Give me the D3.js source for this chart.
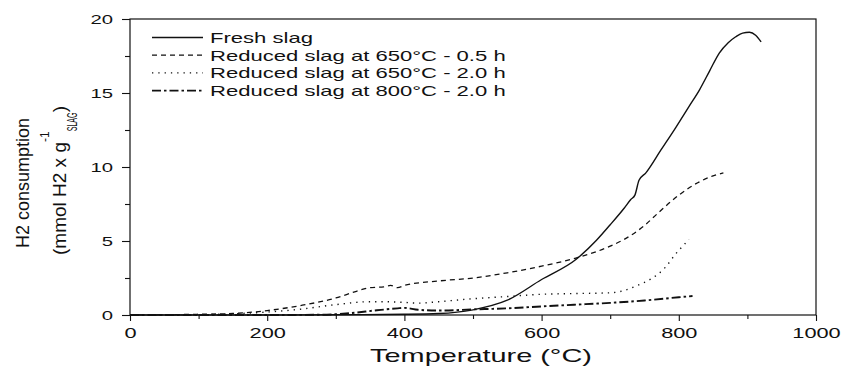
<!DOCTYPE html>
<html>
<head>
<meta charset="utf-8">
<script src="https://cdn.jsdelivr.net/npm/d3@7"></script>
<style>
  body { margin: 0; background: #fff; }
  text { font-family: "Liberation Sans", Arial, sans-serif; fill: #111; }
</style>
</head>
<body>
<svg width="842" height="367"></svg>
<script>
// temperature (°C) and H2 consumption
const freshT = [0, 100, 200, 300, 400, 450, 500, 550, 600, 650, 680, 700, 720, 730, 736, 742, 752, 774, 796, 815, 830, 845, 859, 872, 883, 893, 903, 912, 920]
const freshV = [0, 0, 0, 0.02, 0.05, 0.1, 0.35, 1.0, 2.4, 3.75, 5.05, 6.1, 7.2, 7.8, 8.1, 9.1, 9.6, 11.15, 12.7, 14.1, 15.2, 16.5, 17.7, 18.4, 18.8, 19.05, 19.1, 18.9, 18.45]

const red05T = [0, 50, 100, 150, 200, 250, 300, 330, 350, 370, 380, 390, 400, 450, 500, 550, 600, 650, 700, 720, 750, 770, 800, 830, 850, 865]
const red05V = [0, 0.02, 0.05, 0.1, 0.3, 0.65, 1.15, 1.6, 1.85, 1.9, 2.0, 1.85, 2.0, 2.3, 2.5, 2.85, 3.3, 3.85, 4.65, 5.1, 6.05, 6.9, 8.1, 9.0, 9.4, 9.6]

const red20T = [0, 100, 150, 200, 250, 300, 350, 370, 400, 420, 450, 500, 550, 600, 650, 700, 720, 740, 760, 780, 795, 815]
const red20V = [0, 0.02, 0.08, 0.2, 0.4, 0.7, 0.9, 0.9, 0.85, 0.8, 0.9, 1.1, 1.25, 1.4, 1.45, 1.5, 1.65, 2.0, 2.45, 3.2, 4.1, 5.1]

const red800T = [0, 100, 200, 280, 320, 360, 390, 400, 420, 450, 500, 550, 600, 650, 700, 750, 800, 820]
const red800V = [0, 0, 0, 0.02, 0.12, 0.32, 0.45, 0.48, 0.35, 0.3, 0.38, 0.45, 0.58, 0.7, 0.82, 0.98, 1.2, 1.28]

const seriesNames = ['Fresh slag', 'Reduced slag at 650°C - 0.5 h', 'Reduced slag at 650°C - 2.0 h', 'Reduced slag at 800°C - 2.0 h']
const xTicks = [0, 200, 400, 600, 800, 1000]
const yTicks = [0, 5, 10, 15, 20]

const svg = d3.select('svg')

const x = d3.scaleLinear().domain([0, 1000]).range([130, 816])
const y = d3.scaleLinear().domain([0, 20]).range([315, 19])

// the original figure is stretched sideways, so text gets widened too
function widen(sel, k) {
  sel.each(function () {
    const w = this.getComputedTextLength()
    d3.select(this).attr('textLength', w * k).attr('lengthAdjust', 'spacingAndGlyphs')
  })
}

const series = [
  { name: seriesNames[0], t: freshT, v: freshV, dash: null, w: 1.4 },
  { name: seriesNames[1], t: red05T, v: red05V, dash: '5,4', w: 1.3 },
  { name: seriesNames[2], t: red20T, v: red20V, dash: '1.3,5', w: 1.4 },
  { name: seriesNames[3], t: red800T, v: red800V, dash: '9,3,2.5,3', w: 1.9 }
]

// frame
svg.append('rect')
  .attr('x', x(0)).attr('y', y(20))
  .attr('width', x(1000) - x(0)).attr('height', y(0) - y(20))
  .attr('fill', 'none').attr('stroke', '#111').attr('stroke-width', 1.2)

// x axis with minor ticks
const xAxis = svg.append('g').attr('transform', `translate(0,${y(0)})`)
xAxis.call(d3.axisBottom(x).tickValues(d3.range(100, 1000, 200)).tickSize(4).tickFormat(''))
xAxis.append('g').call(d3.axisBottom(x).tickValues(xTicks).tickSize(6).tickPadding(7).tickFormat(d3.format('d')))
xAxis.selectAll('.domain').remove()
xAxis.selectAll('line').attr('stroke', '#111').attr('stroke-width', 1.1)
xAxis.selectAll('text').attr('font-size', 14.5).attr('font-family', '"Liberation Sans", Arial, sans-serif').attr('fill', '#111')
  .call(widen, 1.5)

// y axis with minor ticks
const yAxis = svg.append('g').attr('transform', `translate(${x(0)},0)`)
yAxis.call(d3.axisLeft(y).tickValues([2.5, 7.5, 12.5, 17.5]).tickSize(5).tickFormat(''))
yAxis.append('g').call(d3.axisLeft(y).tickValues(yTicks).tickSize(8).tickPadding(9))
yAxis.selectAll('.domain').remove()
yAxis.selectAll('line').attr('stroke', '#111').attr('stroke-width', 1.1)
yAxis.selectAll('text').attr('font-size', 13.5).attr('font-family', '"Liberation Sans", Arial, sans-serif').attr('fill', '#111')
  .call(widen, 1.5)

// axis titles
svg.append('text')
  .attr('x', 481).attr('y', 362)
  .attr('text-anchor', 'middle').attr('font-size', 19)
  .text('Temperature (°C)')
  .call(widen, 1.52)

const yl = svg.append('g').attr('transform', 'rotate(-90)')
yl.append('text')
  .attr('x', -248).attr('y', 29)
  .attr('font-size', 19)
  .attr('textLength', 130).attr('lengthAdjust', 'spacingAndGlyphs')
  .text('H2 consumption')
const l2 = yl.append('text')
  .attr('x', -255).attr('y', 66)
  .attr('font-size', 19)
l2.append('tspan').text('(mmol H2 x g')
l2.append('tspan').attr('font-size', 12).attr('dy', -17).text('-1')
l2.append('tspan').attr('font-size', 15).attr('dy', 28)
  .attr('textLength', 19).attr('lengthAdjust', 'spacingAndGlyphs').text('SLAG')
l2.append('tspan').attr('dy', -11).text(')')

// curves
const line = d3.line()
  .x(d => x(d[0]))
  .y(d => y(d[1]))
  .curve(d3.curveMonotoneX)

series.forEach(s => {
  svg.append('path')
    .datum(s.t.map((t, i) => [t, s.v[i]]))
    .attr('d', line)
    .attr('fill', 'none')
    .attr('stroke', '#111')
    .attr('stroke-width', s.w)
    .attr('stroke-dasharray', s.dash)
})

// legend
const legend = svg.append('g')
series.forEach((s, i) => {
  const base = 43 + i * 17.7
  legend.append('line')
    .attr('x1', 152).attr('x2', 203).attr('y1', base - 5.5).attr('y2', base - 5.5)
    .attr('stroke', '#111').attr('stroke-width', s.w)
    .attr('stroke-dasharray', s.dash)
  legend.append('text')
    .attr('x', 210).attr('y', base)
    .attr('font-size', 15)
    .text(s.name)
    .call(widen, 1.47)
})
</script>
</body>
</html>
